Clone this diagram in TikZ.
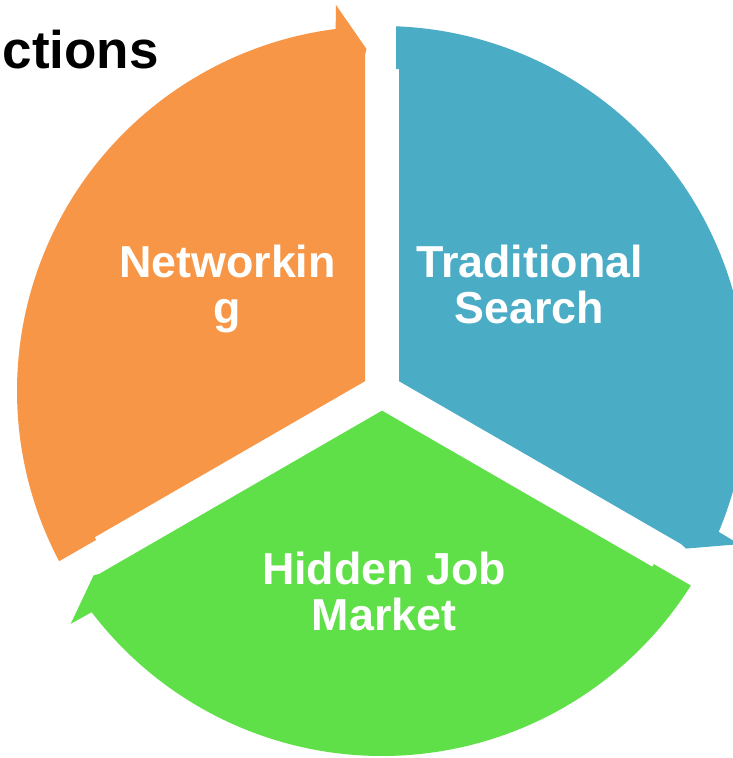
\documentclass[tikz,border=0pt]{standalone}
\usepackage{fontspec}
\setmainfont{Liberation Sans}
\definecolor{segorange}{HTML}{F79646}
\definecolor{segblue}{HTML}{4BACC6}
\definecolor{seggreen}{HTML}{5FE048}
% one segment of the cycle (orange orientation), centre at origin, y up
\newcommand\cyclesegpath{(-17,9.815) -- (-17,336) -- (-15.5,342) -- (-46,386) -- (97.3:365)
  arc[start angle=97.3, end angle=207.8, radius=365]
  -- (-285.86,-148.88) -- (-287.36,-146.28) -- cycle}
\begin{document}
\begin{tikzpicture}[x=1pt,y=1pt,
  seglabel/.style={text=white, font=\fontsize{44.8}{46}\selectfont\bfseries,
    align=center, anchor=base, inner sep=0pt},
  titletext/.style={text=black, font=\fontsize{53}{60}\selectfont\bfseries,
    anchor=base east, inner sep=0pt}]
\useasboundingbox (0,-758) rectangle (733,0);
\fill[white] (0,-758) rectangle (733,0);
\clip (0,-758) rectangle (733,0);
\foreach \ang/\col in {0/segorange, -120/segblue, 120/seggreen}{
  \fill[\col, shift={(382,-391)}, rotate=\ang] \cyclesegpath;
}
\node[titletext] (title) at (159,-68.3) {ctions};
\node[seglabel] (net) at (227.5,-323.7) {Networkin\\g};
\node[seglabel] (trad) at (529.5,-323.3) {Traditional\\Search};
\node[seglabel] (hid) at (384,-630.3) {Hidden Job\\Market};
\end{tikzpicture}
\end{document}
